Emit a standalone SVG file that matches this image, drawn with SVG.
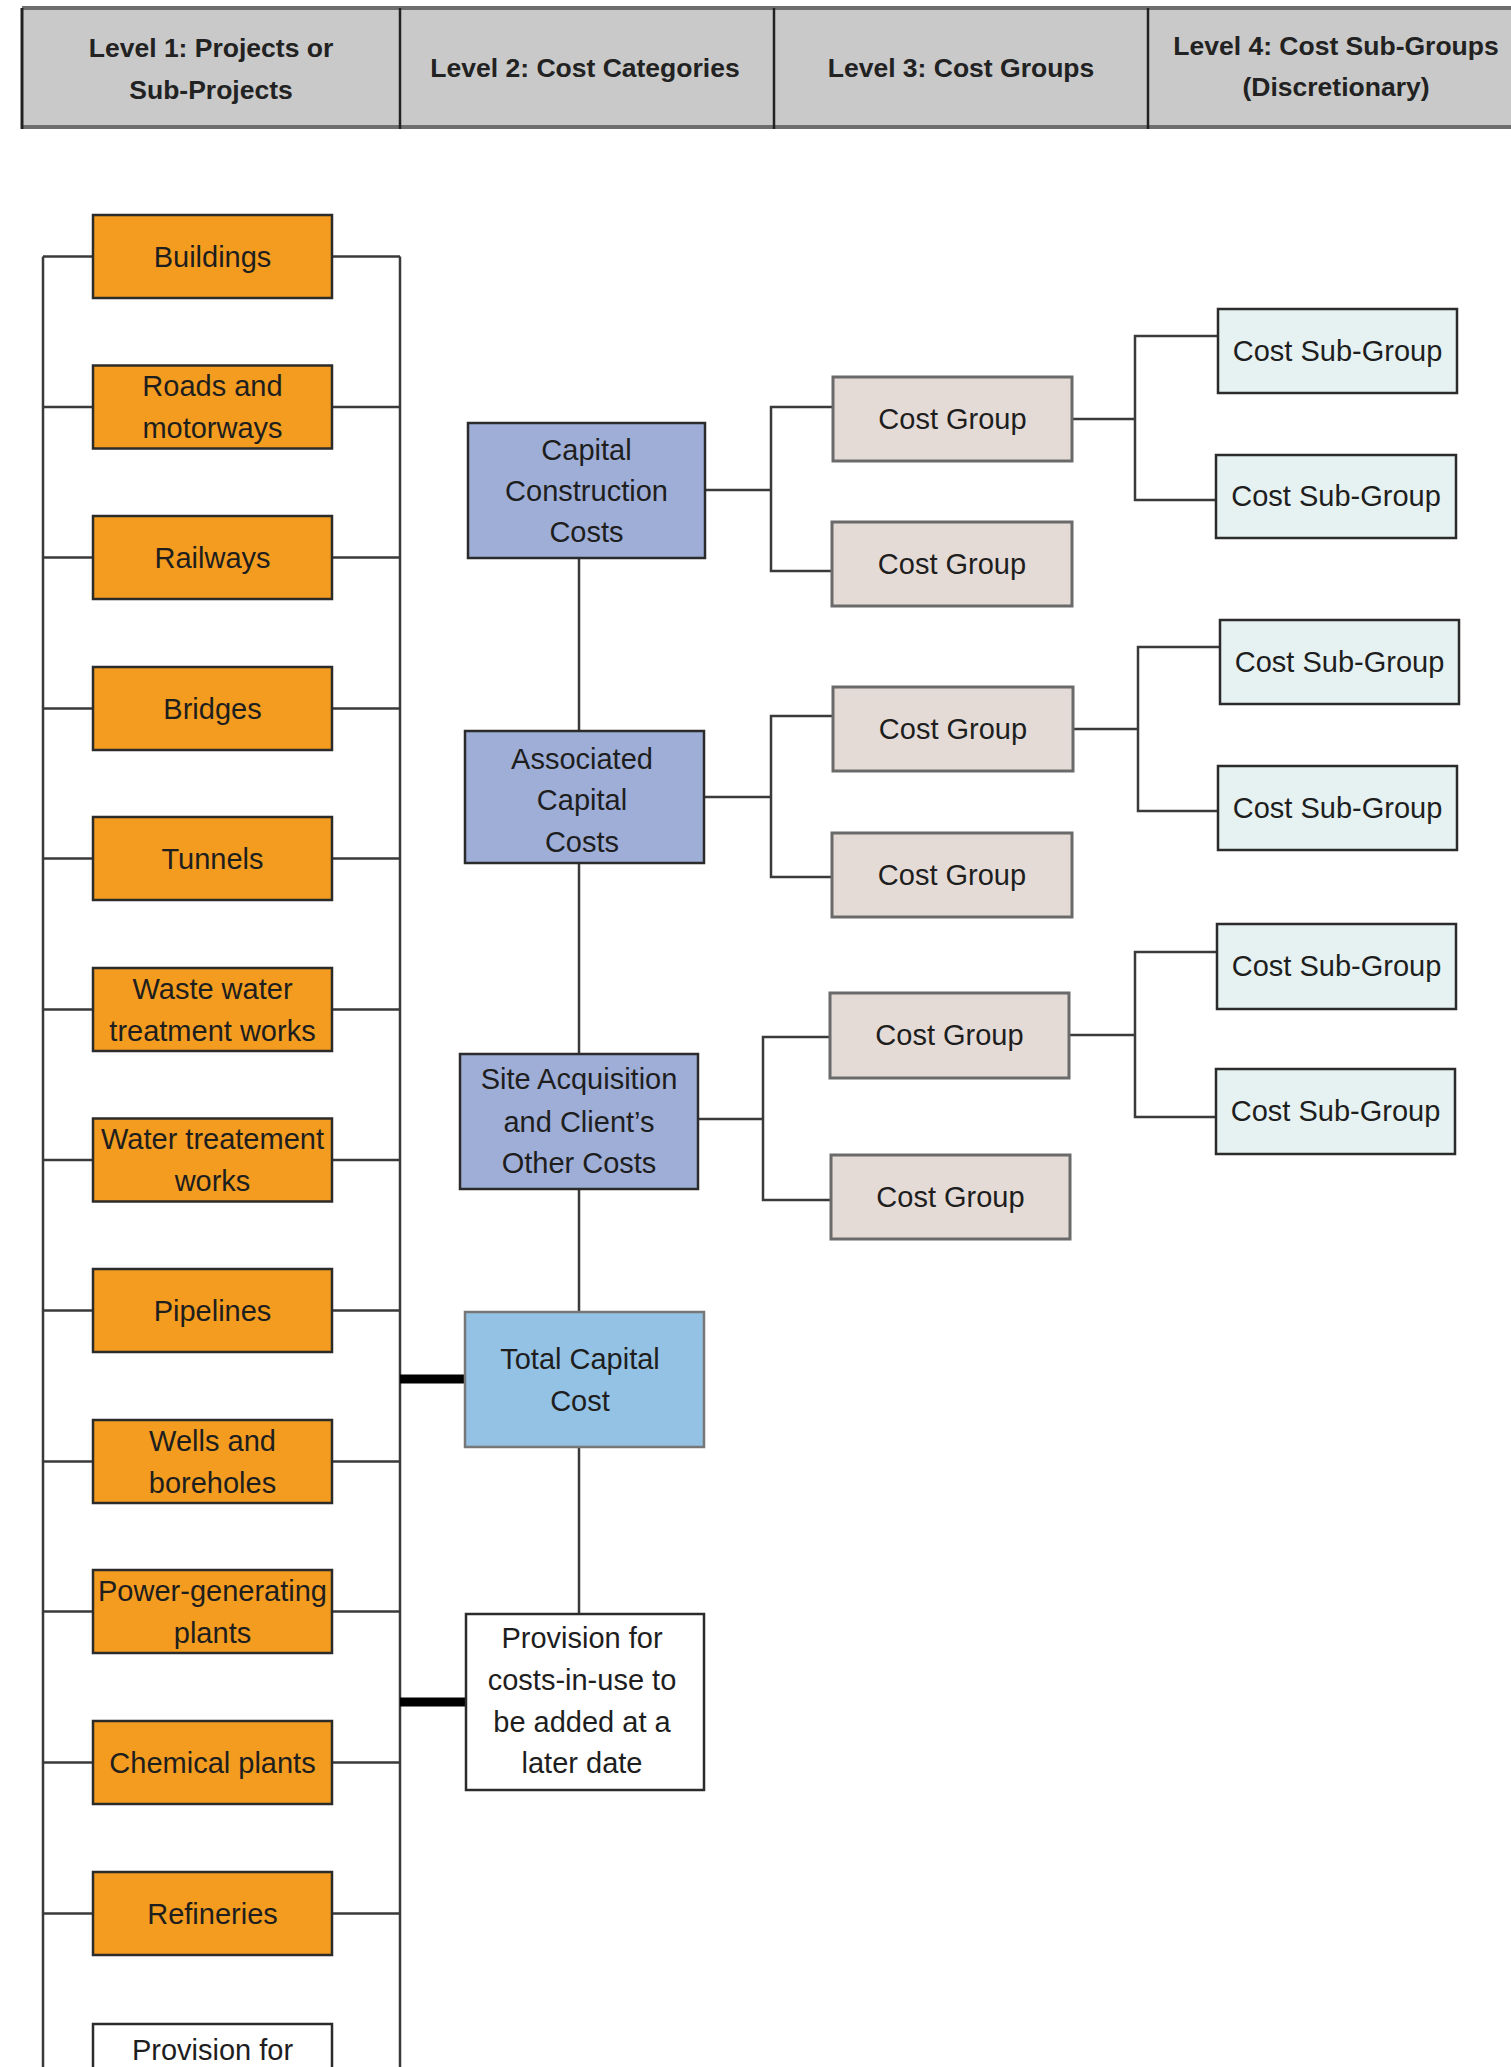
<svg xmlns="http://www.w3.org/2000/svg" width="1511" height="2067" viewBox="0 0 1511 2067">
<style>
text{font-family:"Liberation Sans",Arial,sans-serif;font-size:29px;fill:#1e1e1e;text-anchor:middle}
.hd{font-weight:bold;font-size:26.5px;fill:#222}
.orange{fill:#F39C1F;stroke:#2b2b2b;stroke-width:2.5}
.cat{fill:#9EAED7;stroke:#2b2b2b;stroke-width:2.5}
.total{fill:#94C2E4;stroke:#777;stroke-width:2.5}
.prov{fill:#fff;stroke:#2b2b2b;stroke-width:2.5}
.cg{fill:#E4DBD7;stroke:#6a6a6a;stroke-width:3}
.sg{fill:#E6F2F1;stroke:#2b2b2b;stroke-width:2.5}
.ln{fill:none;stroke:#3a3a3a;stroke-width:2.5}
.thick{fill:none;stroke:#000;stroke-width:9}
</style>
<rect width="1511" height="2067" fill="#fff"/>
<g id="header">
<rect x="22" y="8" width="1500" height="120" fill="#C9C9C9"/>
<line x1="22" y1="8" x2="1511" y2="8" stroke="#6e6e6e" stroke-width="4"/>
<line x1="22" y1="127" x2="1511" y2="127" stroke="#6e6e6e" stroke-width="4"/>
<line x1="22" y1="8" x2="22" y2="129" stroke="#222" stroke-width="3"/>
<line x1="400" y1="8" x2="400" y2="129" stroke="#222" stroke-width="2.5"/>
<line x1="774" y1="8" x2="774" y2="129" stroke="#222" stroke-width="2.5"/>
<line x1="1148" y1="8" x2="1148" y2="129" stroke="#222" stroke-width="2.5"/>
<text class="hd" x="211" y="57">Level 1: Projects or</text>
<text class="hd" x="211" y="99">Sub-Projects</text>
<text class="hd" x="585" y="77">Level 2: Cost Categories</text>
<text class="hd" x="961" y="77">Level 3: Cost Groups</text>
<text class="hd" x="1336" y="55">Level 4: Cost Sub-Groups</text>
<text class="hd" x="1336" y="96">(Discretionary)</text>
</g>
<g id="connectors">
<path class="ln" d="M43,256.5 V2070 M400,256.5 V2070"/>
<path class="ln" d="M43,256.5H93M332,256.5H400 M43,407H93M332,407H400 M43,557.5H93M332,557.5H400 M43,708.5H93M332,708.5H400 M43,858.5H93M332,858.5H400 M43,1009.5H93M332,1009.5H400 M43,1160H93M332,1160H400 M43,1310.5H93M332,1310.5H400 M43,1461.5H93M332,1461.5H400 M43,1611.5H93M332,1611.5H400 M43,1762.5H93M332,1762.5H400 M43,1913.5H93M332,1913.5H400"/>
<path class="ln" d="M579,558V731 M579,863V1054 M579,1189V1312 M579,1447V1614"/>
<path class="thick" d="M400,1379H466 M400,1702H467"/>
<path class="ln" d="M705,490H771 M833,407H771V571H832"/>
<path class="ln" d="M704,797H771 M833,716H771V877H832"/>
<path class="ln" d="M698,1119H763 M830,1037H763V1200H831"/>
<path class="ln" d="M1072,419H1135 M1218,336H1135V500H1216"/>
<path class="ln" d="M1073,729H1138 M1220,647H1138V811H1218"/>
<path class="ln" d="M1069,1035H1135 M1217,952H1135V1117H1216"/>
</g>
<g id="n-buildings"><rect class="orange" x="93" y="215" width="239" height="83"/><text x="212.5" y="267">Buildings</text></g>
<g id="n-roads"><rect class="orange" x="93" y="365.5" width="239" height="83"/><text x="212.5" y="396">Roads and</text><text x="212.5" y="438">motorways</text></g>
<g id="n-railways"><rect class="orange" x="93" y="516" width="239" height="83"/><text x="212.5" y="568">Railways</text></g>
<g id="n-bridges"><rect class="orange" x="93" y="667" width="239" height="83"/><text x="212.5" y="719">Bridges</text></g>
<g id="n-tunnels"><rect class="orange" x="93" y="817" width="239" height="83"/><text x="212.5" y="869">Tunnels</text></g>
<g id="n-wastewater"><rect class="orange" x="93" y="968" width="239" height="83"/><text x="212.5" y="998.5">Waste water</text><text x="212.5" y="1040.5">treatment works</text></g>
<g id="n-water"><rect class="orange" x="93" y="1118.5" width="239" height="83"/><text x="212.5" y="1149">Water treatement</text><text x="212.5" y="1191">works</text></g>
<g id="n-pipelines"><rect class="orange" x="93" y="1269" width="239" height="83"/><text x="212.5" y="1321">Pipelines</text></g>
<g id="n-wells"><rect class="orange" x="93" y="1420" width="239" height="83"/><text x="212.5" y="1450.5">Wells and</text><text x="212.5" y="1492.5">boreholes</text></g>
<g id="n-power"><rect class="orange" x="93" y="1570" width="239" height="83"/><text x="212.5" y="1600.5">Power-generating</text><text x="212.5" y="1642.5">plants</text></g>
<g id="n-chemical"><rect class="orange" x="93" y="1721" width="239" height="83"/><text x="212.5" y="1773">Chemical plants</text></g>
<g id="n-refineries"><rect class="orange" x="93" y="1872" width="239" height="83"/><text x="212.5" y="1924">Refineries</text></g>
<g id="n-provision-left"><rect class="prov" x="93" y="2024" width="239" height="176"/><text x="212.5" y="2060">Provision for</text></g>
<g id="n-capital"><rect class="cat" x="468" y="423" width="237" height="135"/><text x="586.5" y="460">Capital</text><text x="586.5" y="501">Construction</text><text x="586.5" y="542">Costs</text></g>
<g id="n-associated"><rect class="cat" x="465" y="731" width="239" height="132"/><text x="582" y="769">Associated</text><text x="582" y="810">Capital</text><text x="582" y="852">Costs</text></g>
<g id="n-site"><rect class="cat" x="460" y="1054" width="238" height="135"/><text x="579" y="1089">Site Acquisition</text><text x="579" y="1132">and Client’s</text><text x="579" y="1173">Other Costs</text></g>
<g id="n-total"><rect class="total" x="465" y="1312" width="239" height="135"/><text x="580" y="1369">Total Capital</text><text x="580" y="1411">Cost</text></g>
<g id="n-provision"><rect class="prov" x="466" y="1614" width="238" height="176"/><text x="582" y="1648">Provision for</text><text x="582" y="1690">costs-in-use to</text><text x="582" y="1732">be added at a</text><text x="582" y="1773">later date</text></g>
<g id="n-cg1"><rect class="cg" x="833" y="377" width="239" height="84"/><text x="952.5" y="429">Cost Group</text></g>
<g id="n-cg2"><rect class="cg" x="832" y="522" width="240" height="84"/><text x="952" y="574">Cost Group</text></g>
<g id="n-cg3"><rect class="cg" x="833" y="687" width="240" height="84"/><text x="953" y="739">Cost Group</text></g>
<g id="n-cg4"><rect class="cg" x="832" y="833" width="240" height="84"/><text x="952" y="885">Cost Group</text></g>
<g id="n-cg5"><rect class="cg" x="830" y="993" width="239" height="85"/><text x="949.5" y="1045">Cost Group</text></g>
<g id="n-cg6"><rect class="cg" x="831" y="1155" width="239" height="84"/><text x="950.5" y="1207">Cost Group</text></g>
<g id="n-sg1"><rect class="sg" x="1218" y="309" width="239" height="84"/><text x="1337.5" y="361">Cost Sub-Group</text></g>
<g id="n-sg2"><rect class="sg" x="1216" y="455" width="240" height="83"/><text x="1336" y="506">Cost Sub-Group</text></g>
<g id="n-sg3"><rect class="sg" x="1220" y="620" width="239" height="84"/><text x="1339.5" y="672">Cost Sub-Group</text></g>
<g id="n-sg4"><rect class="sg" x="1218" y="766" width="239" height="84"/><text x="1337.5" y="818">Cost Sub-Group</text></g>
<g id="n-sg5"><rect class="sg" x="1217" y="924" width="239" height="85"/><text x="1336.5" y="976">Cost Sub-Group</text></g>
<g id="n-sg6"><rect class="sg" x="1216" y="1069" width="239" height="85"/><text x="1335.5" y="1121">Cost Sub-Group</text></g>
</svg>
